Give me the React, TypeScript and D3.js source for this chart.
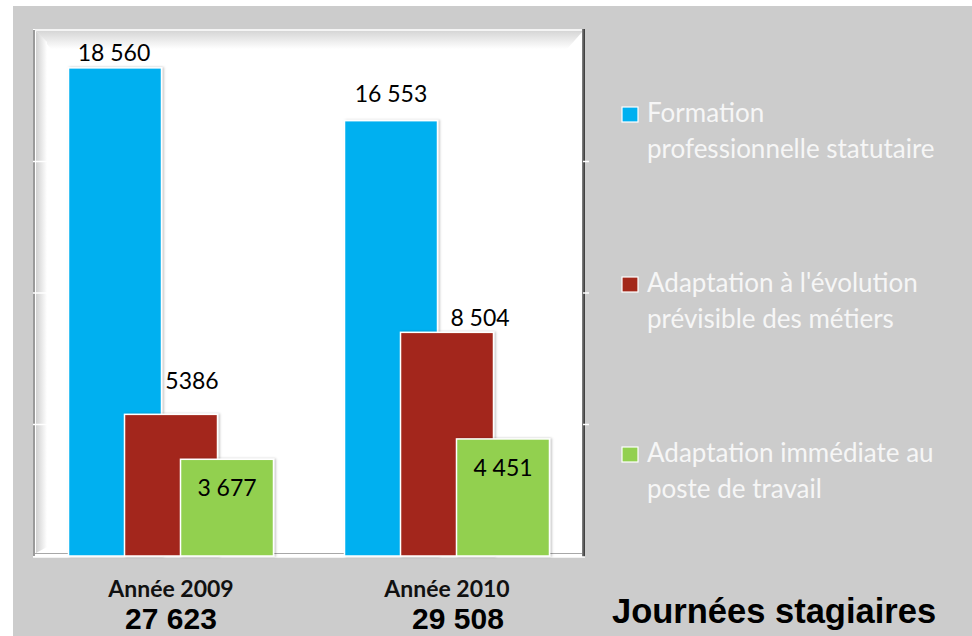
import React from "react";
import * as d3 from "d3";

const years = ["Année 2009", "Année 2010"];
const totals = ["27 623", "29 508"];
const seriesNames = [
  ["Formation", "professionnelle statutaire"],
  ["Adaptation à l'évolution", "prévisible des métiers"],
  ["Adaptation immédiate au", "poste de travail"],
];
const formationValues = [18560, 16553];
const adaptationEvolutionValues = [5386, 8504];
const adaptationImmediateValues = [3677, 4451];
const valueLabels = [
  ["18 560", "16 553"],
  ["5386", "8 504"],
  ["3 677", "4 451"],
];
const yTicks = [0, 5000, 10000, 15000, 20000];
const chartTitle = "Journées stagiaires";

const colors = ["#00b0f0", "#a3281a", "#92d050"];
// label offsets (dx from bar center, dy from bar top to baseline)
const labelOffsets = [
  [[-1, -7], [0, -19]],
  [[21, -25], [33, -6]],
  [[0, 37], [0, 37]],
];

const W = 972;
const H = 636;
const PL = 33, PR = 585, PT = 29, PB = 557;

export default function App() {
  const series = [formationValues, adaptationEvolutionValues, adaptationImmediateValues];
  const x = d3.scaleBand<string>().domain(years).range([PL, PR]).padding(0);
  const y = d3.scaleLinear().domain([0, 20000]).range([556, 30]);
  const step = 56;
  const barW = 93;
  const font = "Lato, 'Open Sans', sans-serif";

  return (
    <svg
      width={W}
      height={H}
      style={{ position: "absolute", left: 0, top: 0, display: "block" }}
    >
      <defs>
        <linearGradient id="leftWall" x1="0" x2="1" y1="0" y2="0">
          <stop offset="0" stopColor="#d0d0d0" />
          <stop offset="1" stopColor="#ffffff" />
        </linearGradient>
        <linearGradient id="topWall" x1="0" x2="0" y1="0" y2="1">
          <stop offset="0" stopColor="#d6d6d6" />
          <stop offset="1" stopColor="#ffffff" />
        </linearGradient>
        <linearGradient id="rightEdge" x1="0" x2="1" y1="0" y2="0">
          <stop offset="0" stopColor="#888" />
          <stop offset="1" stopColor="#333" />
        </linearGradient>
        <filter id="shadow" x="-10%" y="-10%" width="130%" height="130%">
          <feDropShadow dx="1.5" dy="0" stdDeviation="1.2" floodColor="#000" floodOpacity="0.25" />
        </filter>
      </defs>
      <rect x={0} y={0} width={W} height={H} fill="#ffffff" />
      <rect x={13} y={6} width={W - 13} height={H - 6} fill="#cccccc" />

      {/* plot area */}
      <rect x={PL} y={PT} width={PR - PL} height={PB - PT} fill="#ffffff" />
      <polygon
        points={`${PL + 3},${PT + 2} ${PR - 2},${PT + 2} ${PR - 18},${PT + 20} ${PL + 18},${PT + 20}`}
        fill="url(#topWall)"
      />
      <polygon
        points={`${PL + 3},${PT + 2} ${PL + 14},${PT + 13} ${PL + 14},${PB - 10} ${PL + 3},${PB - 4}`}
        fill="url(#leftWall)"
      />
      <line x1={PL + 1} x2={PL + 1} y1={PT + 1} y2={PB - 1} stroke="#9a9a9a" strokeWidth={2} />
      <line x1={PL + 2} x2={PR - 2} y1={PT + 1} y2={PT + 1} stroke="#f4f4f4" strokeWidth={2} />
      <rect x={PR - 3} y={PT} width={3} height={PB - PT} fill="url(#rightEdge)" />
      <line x1={PL + 2} x2={PR - 3} y1={PB - 3.5} y2={PB - 3.5} stroke="#a8a8a8" strokeWidth={1} />
      <line x1={PL} x2={PR} y1={PB} y2={PB} stroke="#ffffff" strokeWidth={1.5} />

      {/* ticks */}
      {yTicks.slice(1, -1).map((t) => (
        <g key={t}>
          <line x1={PL} x2={PL + 22} y1={y(t)} y2={y(t)} stroke="#ffffff" strokeWidth={1.5} />
          <line x1={PR - 2} x2={PR + 4} y1={y(t)} y2={y(t)} stroke="#ffffff" strokeWidth={1.5} />
        </g>
      ))}

      {/* bars */}
      {years.map((yr, gi) => {
        const cx = (x(yr) as number) + x.bandwidth() / 2;
        return (
          <g key={yr}>
            {series.map((vals, si) => {
              const bc = cx + (si - 1) * step;
              return (
                <rect
                  key={si}
                  x={bc - barW / 2}
                  y={y(vals[gi])}
                  width={barW}
                  height={y(0) - y(vals[gi])}
                  fill={colors[si]}
                  stroke="#ffffff"
                  strokeWidth={1.5}
                  filter="url(#shadow)"
                />
              );
            })}
            {series.map((vals, si) => {
              const bc = cx + (si - 1) * step;
              const [dx, dy] = labelOffsets[si][gi];
              return (
                <text
                  key={"l" + si}
                  x={bc + dx}
                  y={y(vals[gi]) + dy}
                  textAnchor="middle"
                  fontFamily={font}
                  fontSize={23}
                  fill="#000"
                >
                  {valueLabels[si][gi]}
                </text>
              );
            })}
            <text
              x={cx}
              y={597}
              textAnchor="middle"
              fontFamily={font}
              fontWeight="bold"
              fontSize={23}
              fill="#111"
            >
              {yr}
            </text>
            <text
              x={cx + (gi === 1 ? 11 : 0)}
              y={629}
              textAnchor="middle"
              fontFamily="'Liberation Sans', Arial, sans-serif"
              fontWeight="bold"
              fontSize={30}
              fill="#000"
            >
              {totals[gi]}
            </text>
          </g>
        );
      })}

      {/* legend */}
      {seriesNames.map((lines, i) => {
        const top = 122 + i * 170;
        return (
          <g key={i}>
            <rect x={622} y={top - 15} width={16} height={15} fill={colors[i]} stroke="#ffffff" strokeWidth={1.2} />
            {lines.map((ln, j) => (
              <text
                key={j}
                x={647}
                y={top + j * 36}
                fontFamily={font}
                fontSize={26}
                fill="#f6f6f6"
              >
                {ln}
              </text>
            ))}
          </g>
        );
      })}

      <text
        x={612}
        y={623}
        fontFamily="'Liberation Sans', Arial, sans-serif"
        fontWeight="bold"
        fontSize={34.5}
        fill="#000"
      >
        {chartTitle}
      </text>
    </svg>
  );
}
